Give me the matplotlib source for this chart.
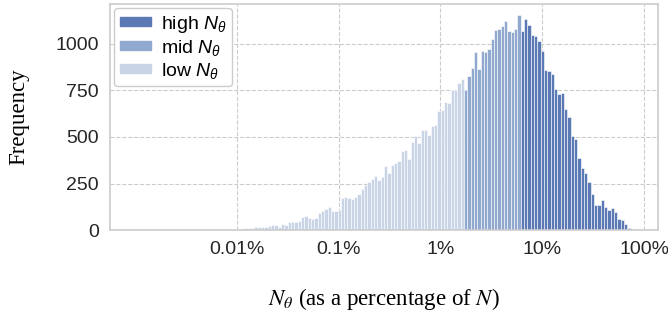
import numpy as np
import matplotlib
matplotlib.use("Agg")
import matplotlib.pyplot as plt
import matplotlib.patches as mpatches

# histogram counts (log-spaced bins, left to right)
low_counts = [2, 1, 1, 1, 4, 3, 2, 5, 4,
              8, 9, 10, 13, 14, 16, 17, 20, 20, 22, 27,
              27, 20, 35, 28, 45, 44, 45, 51,
              73, 78, 67, 59, 67, 94, 105, 112, 123, 105, 105, 109, 175, 180, 173, 168,
              180, 194, 220, 243, 260, 273, 291, 269, 287, 344, 305, 350, 362, 373,
              426, 430, 384, 475, 505, 469, 537, 537, 510,
              559, 564, 641, 644, 689, 684, 752, 752, 790, 813]
mid_counts = [752, 827, 868, 957, 864, 962, 955, 970, 1026, 1073, 1077, 1094,
              1120, 1068, 1064, 1078, 1153]
high_counts = [1070, 1132, 1101, 1045, 1041, 1012, 962, 857, 853, 840, 755, 732,
               737, 651, 605, 507, 487, 386, 336, 309, 260, 194, 134, 137, 161,
               125, 107, 119, 96, 62, 57, 35, 14]

# data range in log10(percent)
bin_lo, bin_hi = -2.288, 1.869
x_limits = (5.7e-4, 137)
y_limits = (0, 1212)

tick_values = [0.01, 0.1, 1, 10, 100]
tick_labels = ['0.01%', '0.1%', '1%', '10%', '100%']
y_ticks = [0, 250, 500, 750, 1000]

colors = {'high': '#5b7ab5', 'mid': '#91a8cf', 'low': '#c9d4e6'}

plt.rcParams['font.family'] = ['Liberation Sans', 'DejaVu Sans']
plt.rcParams['mathtext.fontset'] = 'custom'
plt.rcParams['mathtext.it'] = 'Liberation Sans:italic'
plt.rcParams['mathtext.rm'] = 'Liberation Sans'

n_bins = len(low_counts) + len(mid_counts) + len(high_counts)
edges = np.logspace(bin_lo, bin_hi, n_bins + 1)

fig = plt.figure(figsize=(6.68, 3.15), dpi=100)
ax = fig.add_axes([0.165, 0.269, 0.82, 0.718])

start = 0
for name, counts in [('low', low_counts), ('mid', mid_counts), ('high', high_counts)]:
    e = edges[start:start + len(counts) + 1]
    centers = np.sqrt(e[:-1] * e[1:])
    ax.hist(centers, bins=e, weights=counts, color=colors[name],
            edgecolor='white', linewidth=0.4, zorder=2)
    start += len(counts)

ax.set_xscale('log')
ax.set_xlim(*x_limits)
ax.set_ylim(*y_limits)
ax.set_xticks(tick_values)
ax.set_xticklabels(tick_labels)
ax.minorticks_off()
ax.set_yticks(y_ticks)
ax.tick_params(axis='both', length=0, labelsize=14, colors='#262626', pad=8)

ax.grid(True, linestyle='--', color='#cccccc', linewidth=0.8, zorder=0)
ax.set_axisbelow(True)
for sp in ax.spines.values():
    sp.set_color('#cccccc')
    sp.set_linewidth(1.2)

ax.set_xlabel(r'$N_\theta$ (as a percentage of $N$)', fontsize=16.5,
              family='Liberation Serif', math_fontfamily='stix', labelpad=20)
ax.set_ylabel('Frequency', fontsize=16.5, family='Liberation Serif', labelpad=19)

handles = [mpatches.Patch(color=colors['high'], label=r'high $N_\theta$'),
           mpatches.Patch(color=colors['mid'], label=r'mid $N_\theta$'),
           mpatches.Patch(color=colors['low'], label=r'low $N_\theta$')]
leg = ax.legend(handles=handles, loc='upper left', fontsize=14,
                handlelength=1.6, handleheight=0.35, handletextpad=0.5,
                labelspacing=0.15, borderpad=0.3, borderaxespad=0.2,
                frameon=True, fancybox=True)
leg.get_frame().set_edgecolor('#cccccc')
leg.get_frame().set_alpha(1.0)

fig.savefig('out.png', dpi=100)
